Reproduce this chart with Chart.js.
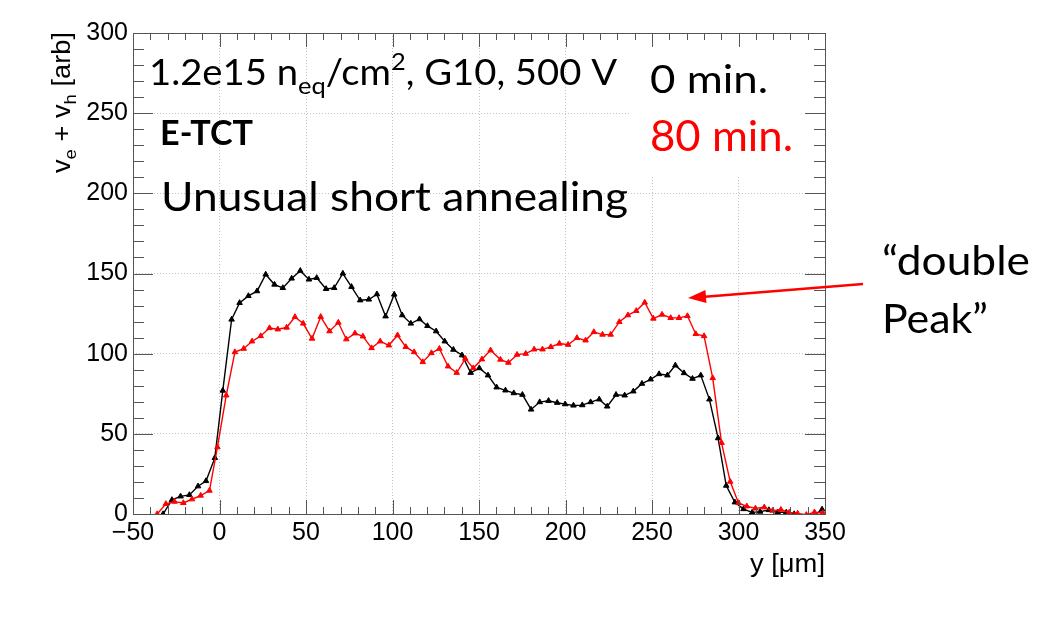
<!DOCTYPE html>
<html>
<head>
<meta charset="utf-8">
<script src="https://cdn.jsdelivr.net/npm/chart.js@4.4.1/dist/chart.umd.min.js"></script>
<style>
  html, body { margin: 0; padding: 0; background: #fff; }
  #wrap { width: 1045px; height: 637px; }
</style>
</head>
<body>
<div id="wrap"><canvas id="chart" width="1045" height="637"></canvas></div>
<script>
/* SCAN DATA */
// 0 min. (black)
var posBlack = [-32.6, -27.5, -22.5, -17.4, -12.4, -7.8, -2.7, 1.9, 7.0, 11.6,
    16.7, 21.7, 26.7, 31.8, 36.6, 41.7, 46.7, 51.7, 56.2, 61.6,
    66.3, 71.3, 76.3, 81.3, 86.3, 91.0, 96.0, 101.0, 105.6, 110.6,
    115.6, 120.2, 125.2, 130.2, 135.2, 140.2, 145.2, 150.2, 155.2, 160.2,
    165.3, 170.1, 175.1, 180.1, 185.1, 190.2, 195.2, 199.8, 204.6, 209.7,
    214.5, 219.5, 224.1, 229.2, 234.2, 239.2, 244.2, 249.2, 254.1, 258.9,
    263.5, 268.5, 273.4, 278.2, 283.2, 288.2, 292.9, 297.9, 302.9, 307.9,
    312.5, 317.6, 322.6, 327.6, 332.2, 337.2, 342.5, 348.3];
var sigBlack = [0, 8.8, 11, 11.9, 17.3, 20.6, 35, 77, 121.3, 131.7,
    136, 139, 149.4, 143.1, 141, 146.9, 151.7, 146.3, 147.3, 140.4,
    141, 150, 141.7, 133.3, 133.8, 137.1, 123.3, 136.9, 124, 118.8,
    121.5, 117.3, 114, 107.7, 102.5, 99, 88.1, 91, 86.5, 79,
    77.1, 75.4, 74.4, 65.2, 69.8, 70.6, 69.4, 68.5, 67.7, 67.9,
    69.8, 71.5, 67.1, 74.4, 74, 76.5, 81.3, 84, 87.3, 86.5,
    92.7, 87.9, 84.4, 86.5, 71.5, 47.3, 17.7, 7.3, 3.1, 1,
    1.5, 2.5, 1, 1, 0, -3, -2, 2.9];

// 80 min. (red)
var posRed = [-36, -31, -26, -20.9, -15.9, -10.9, -5.8, -1.2, 3.9, 8.9,
    14, 18.8, 23.8, 28.9, 33.7, 38.8, 43.6, 48.4, 53.5, 58.5,
    63.6, 68.7, 73.3, 78.3, 82.9, 87.9, 92.9, 97.9, 102.9, 107.7,
    112.5, 117.5, 122.5, 127.1, 132.1, 137.1, 142.1, 146.7, 151.7, 156.7,
    162.4, 167, 172, 177, 181.9, 186.7, 191.5, 196.5, 201.5, 206.6,
    211.6, 216.4, 221.4, 226.1, 231.1, 236.1, 240.9, 245.8, 250.8, 255.8,
    260.8, 265.6, 270.5, 275.3, 280.1, 285.1, 290.2, 295.2, 300, 304.8,
    309.8, 314.9, 319.7, 324.5, 329.3, 334.2, 339.2, 343.9, 348.7];
var sigRed = [0, 6.3, 7.7, 6.9, 9.2, 11.5, 14.6, 41.7, 74, 101,
    103.1, 107.7, 111, 116, 115.2, 116.3, 122.9, 118.8, 109.4, 123,
    114, 119.4, 109, 112.7, 110.8, 103.5, 107.7, 105.2, 111.5, 104.2,
    101, 94.8, 100.4, 103.1, 92.1, 88.1, 96.9, 91, 96.5, 102.1,
    96.3, 94.4, 99.4, 100, 102.7, 102.7, 104.2, 106.3, 105.6, 109.8,
    108.3, 113.5, 111.9, 111.9, 119.8, 124, 126.7, 131.9, 121.9, 124.4,
    122.3, 122.3, 123.5, 112.3, 111, 84.8, 44.4, 20.2, 6.9, 4.8,
    3.5, 4.2, 2.1, 2.7, 1, 0.3, -0.5, 1.1, 0.6];

// axis ticks
var xTickValues = [-50, 0, 50, 100, 150, 200, 250, 300, 350];
var yTickValues = [0, 50, 100, 150, 200, 250, 300];
var xMinorStep = 10;
var yMinorStep = 10;

function toPoints(xs, ys) {
    return xs.map(function(x, i) { return { x: x, y: ys[i] }; });
}

/* TEXT HELPERS */
// draws a run of text pieces squeezed to the given width
function drawRun(ctx, parts, x, y, width, rotate) {
    var total = 0;
    parts.forEach(function(p) {
        ctx.font = p.font;
        p.w = ctx.measureText(p.t).width;
        total += p.w;
    });
    ctx.save();
    ctx.translate(x, y);
    if (rotate) ctx.rotate(-Math.PI / 2);
    ctx.scale(width / total, 1);
    ctx.textBaseline = 'alphabetic';
    ctx.textAlign = 'left';
    var cx = 0;
    parts.forEach(function(p) {
        ctx.font = p.font;
        ctx.fillStyle = p.color || '#000';
        ctx.fillText(p.t, cx, p.dy || 0);
        cx += p.w;
    });
    ctx.restore();
}

/* FRAME, TICKS AND LABELS */
var decorations = {
    id: 'decorations',
    beforeDatasetsDraw: function(chart) {
        // white pave under the time labels covers the grid
        var ctx = chart.ctx, a = chart.chartArea;
        ctx.save();
        ctx.fillStyle = '#fff';
        ctx.fillRect(630, a.top, a.right - 630, 175 - a.top);
        ctx.restore();
    },
    afterDraw: function(chart) {
        var ctx = chart.ctx, a = chart.chartArea;
        var xs = chart.scales.x, ys = chart.scales.y;
        ctx.save();
        ctx.strokeStyle = '#555';
        ctx.lineWidth = 1;
        ctx.beginPath();
        // ticks point inwards on all four sides
        for (var v = xs.min; v <= xs.max; v += xMinorStep) {
            var px = Math.round(xs.getPixelForValue(v)) + 0.5;
            var len = (v % 50 === 0) ? 14 : 7;
            ctx.moveTo(px, a.bottom); ctx.lineTo(px, a.bottom - len);
            ctx.moveTo(px, a.top); ctx.lineTo(px, a.top + len);
        }
        for (var w = ys.min; w <= ys.max; w += yMinorStep) {
            var py = Math.round(ys.getPixelForValue(w)) + 0.5;
            var l2 = (w % 50 === 0) ? 20 : 11;
            ctx.moveTo(a.left, py); ctx.lineTo(a.left + l2, py);
            ctx.moveTo(a.right, py); ctx.lineTo(a.right - l2, py);
        }
        ctx.stroke();
        ctx.strokeRect(Math.round(a.left) + 0.5, Math.round(a.top) + 0.5,
            Math.round(a.right - a.left), Math.round(a.bottom - a.top));
        ctx.restore();

        var axisFont = '25px "Liberation Sans", Arial, sans-serif';
        var axisSub = '17px "Liberation Sans", Arial, sans-serif';

        // axis titles
        drawRun(ctx, [{ t: 'y [\u03bcm]', font: axisFont }], 750, 572, 75);
        drawRun(ctx, [
            { t: 'v', font: axisFont },
            { t: 'e', font: axisSub, dy: 6 },
            { t: ' + v', font: axisFont },
            { t: 'h', font: axisSub, dy: 6 },
            { t: ' [arb]', font: axisFont }
        ], 70, 173, 141, true);

        // labels inside the frame
        drawRun(ctx, [
            { t: '1.2e15 n', font: '36px Lato' },
            { t: 'eq', font: '24px Lato', dy: 9 },
            { t: '/cm', font: '36px Lato' },
            { t: '2', font: '24px Lato', dy: -15 },
            { t: ', G10, 500 V', font: '36px Lato' }
        ], 149, 85, 468);
        drawRun(ctx, [{ t: 'E-TCT', font: 'bold 35px Lato' }], 160, 145, 93);
        drawRun(ctx, [{ t: 'Unusual short annealing', font: '41px Lato' }], 161, 211, 467);
        drawRun(ctx, [{ t: '0 min.', font: '39px Lato' }], 650, 93, 118);
        drawRun(ctx, [{ t: '80 min.', font: '42px Lato', color: '#ff0000' }], 650, 151, 143);

        // annotation outside the frame
        drawRun(ctx, [{ t: '\u201cdouble', font: '41px Lato' }], 882, 275, 148);
        drawRun(ctx, [{ t: 'Peak\u201d', font: '41px Lato' }], 882, 333, 106);

        ctx.save();
        ctx.strokeStyle = '#ff0000';
        ctx.fillStyle = '#ff0000';
        ctx.lineWidth = 2.5;
        var x1 = 863, y1 = 284, x2 = 688, y2 = 298;
        var ang = Math.atan2(y2 - y1, x2 - x1);
        ctx.beginPath();
        ctx.moveTo(x1, y1);
        ctx.lineTo(x2 - 14 * Math.cos(ang), y2 - 14 * Math.sin(ang));
        ctx.stroke();
        ctx.beginPath();
        ctx.moveTo(x2, y2);
        ctx.lineTo(x2 - 18 * Math.cos(ang) + 6.5 * Math.sin(ang), y2 - 18 * Math.sin(ang) - 6.5 * Math.cos(ang));
        ctx.lineTo(x2 - 18 * Math.cos(ang) - 6.5 * Math.sin(ang), y2 - 18 * Math.sin(ang) + 6.5 * Math.cos(ang));
        ctx.closePath();
        ctx.fill();
        ctx.restore();
    }
};

/* DRAW CHART */
var tickFont = { family: '"Liberation Sans", Arial, sans-serif', size: 25 };

var ctx = document.getElementById('chart').getContext('2d');
var myChart = new Chart(ctx, {
    type: 'scatter',
    data: {
        datasets: [
            {
                label: '80 min.',
                data: toPoints(posRed, sigRed),
                showLine: true,
                borderColor: '#ff0000',
                backgroundColor: '#ff0000',
                borderWidth: 1.4,
                pointStyle: 'triangle',
                pointRadius: 3.2,
                pointBorderWidth: 1,
                order: 0
            },
            {
                label: '0 min.',
                data: toPoints(posBlack, sigBlack),
                showLine: true,
                borderColor: '#000000',
                backgroundColor: '#000000',
                borderWidth: 1.4,
                pointStyle: 'triangle',
                pointRadius: 3.2,
                pointBorderWidth: 1,
                order: 1
            }
        ]
    },
    options: {
        responsive: false,
        animation: false,
        events: [],
        layout: { padding: { left: 0, top: 33, right: 220, bottom: 0 } },
        plugins: {
            legend: { display: false },
            tooltip: { enabled: false }
        },
        scales: {
            x: {
                type: 'linear',
                min: -50,
                max: 350,
                afterBuildTicks: function(s) {
                    s.ticks = xTickValues.map(function(v) { return { value: v }; });
                },
                afterFit: function(s) { s.height = 123; },
                ticks: {
                    font: tickFont,
                    color: '#000',
                    padding: 4,
                    maxRotation: 0,
                    autoSkip: false,
                    callback: function(v) { return v < 0 ? '\u2212' + (-v) : String(v); }
                },
                grid: { color: '#c4c4c4', lineWidth: 1, drawTicks: false },
                border: { display: false, dash: [1, 2] }
            },
            y: {
                min: 0,
                max: 300,
                afterBuildTicks: function(s) {
                    s.ticks = yTickValues.map(function(v) { return { value: v }; });
                },
                afterFit: function(s) { s.width = 133; },
                ticks: { font: tickFont, color: '#000', padding: 5 },
                grid: { color: '#c4c4c4', lineWidth: 1, drawTicks: false },
                border: { display: false, dash: [1, 2] }
            }
        }
    },
    plugins: [decorations]
});
</script>
</body>
</html>
